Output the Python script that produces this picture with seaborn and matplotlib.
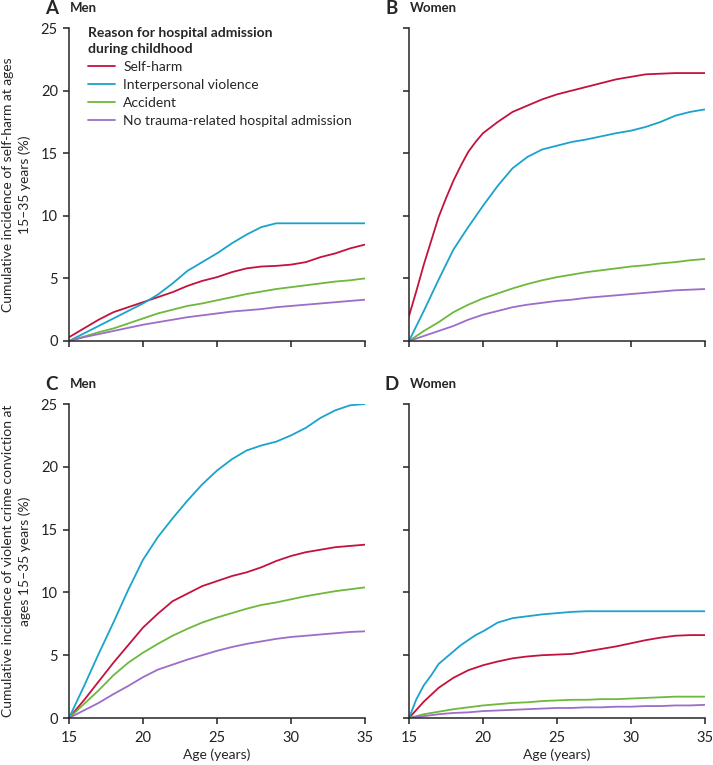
import matplotlib.pyplot as plt
import pandas as pd
import seaborn as sns
from matplotlib.lines import Line2D

reasons = ["Self-harm", "Interpersonal violence", "Accident",
           "No trauma-related hospital admission"]
colors = ["#C4123F", "#1AA3CC", "#6EB83C", "#9B6EC8"]

ages = list(range(15, 36))
ages_fine = [15, 15.5, 16, 16.5, 17, 17.5, 18, 18.5, 19, 19.5, 20] + list(range(21, 36))

# A: men, self-harm
a_selfharm = [0.3, 1.0, 1.7, 2.3, 2.7, 3.1, 3.5, 3.9, 4.4, 4.8, 5.1, 5.5, 5.8, 5.95, 6.0, 6.1, 6.3, 6.7, 7.0, 7.4, 7.7]
a_violence = [0, 0.6, 1.2, 1.8, 2.4, 3.0, 3.7, 4.6, 5.6, 6.3, 7.0, 7.8, 8.5, 9.1, 9.4, 9.4, 9.4, 9.4, 9.4, 9.4, 9.4]
a_accident = [0, 0.35, 0.7, 1.0, 1.4, 1.8, 2.2, 2.5, 2.8, 3.0, 3.25, 3.5, 3.75, 3.95, 4.15, 4.3, 4.45, 4.6, 4.75, 4.85, 5.0]
a_none = [0, 0.3, 0.55, 0.8, 1.05, 1.3, 1.5, 1.7, 1.9, 2.05, 2.2, 2.35, 2.45, 2.55, 2.7, 2.8, 2.9, 3.0, 3.1, 3.2, 3.3]

# B: women, self-harm
b_selfharm = [2.0, 4.0, 6.1, 8.0, 9.9, 11.4, 12.8, 14.0, 15.1, 15.9, 16.6, 17.5, 18.3, 18.8, 19.3, 19.7,
              20.0, 20.3, 20.6, 20.9, 21.1, 21.3, 21.35, 21.4, 21.4, 21.4]
b_violence = [0, 2.4, 4.9, 7.3, 9.1, 10.8, 12.4, 13.8, 14.7, 15.3, 15.6, 15.9, 16.1, 16.35, 16.6, 16.8, 17.1, 17.5, 18.0, 18.3, 18.5]
b_accident = [0, 0.8, 1.5, 2.3, 2.9, 3.4, 3.8, 4.2, 4.55, 4.85, 5.1, 5.3, 5.5, 5.65, 5.8, 5.95, 6.05, 6.2, 6.3, 6.45, 6.55]
b_none = [0, 0.4, 0.8, 1.2, 1.7, 2.1, 2.4, 2.7, 2.9, 3.05, 3.2, 3.3, 3.45, 3.55, 3.65, 3.75, 3.85, 3.95, 4.05, 4.1, 4.15]

# C: men, violent crime
c_selfharm = [0, 1.4, 2.9, 4.4, 5.8, 7.2, 8.3, 9.3, 9.9, 10.5, 10.9, 11.3, 11.6, 12.0, 12.5, 12.9, 13.2, 13.4, 13.6, 13.7, 13.8]
c_violence = [0, 2.5, 5.1, 7.6, 10.2, 12.6, 14.4, 15.9, 17.3, 18.6, 19.7, 20.6, 21.3, 21.7, 22.0, 22.5, 23.1, 23.9, 24.5, 24.9, 25.0]
c_accident = [0, 1.1, 2.2, 3.4, 4.4, 5.2, 5.9, 6.55, 7.1, 7.6, 8.0, 8.35, 8.7, 9.0, 9.2, 9.45, 9.7, 9.9, 10.1, 10.25, 10.4]
c_none = [0, 0.6, 1.2, 1.9, 2.55, 3.25, 3.85, 4.25, 4.65, 5.0, 5.35, 5.65, 5.9, 6.1, 6.3, 6.45, 6.55, 6.65, 6.75, 6.85, 6.9]

# D: women, violent crime
d_selfharm = [0, 1.3, 2.4, 3.2, 3.8, 4.2, 4.5, 4.75, 4.9, 5.0, 5.05, 5.1, 5.3, 5.5, 5.7, 5.95, 6.2, 6.4, 6.55, 6.6, 6.6]
d_violence = [0, 1.5, 2.6, 3.4, 4.3, 4.8, 5.3, 5.8, 6.2, 6.6, 6.9, 7.6, 7.95, 8.1, 8.25, 8.35, 8.45, 8.5, 8.5,
              8.5, 8.5, 8.5, 8.5, 8.5, 8.5, 8.5]
d_accident = [0, 0.3, 0.5, 0.7, 0.85, 1.0, 1.1, 1.2, 1.25, 1.35, 1.4, 1.45, 1.45, 1.5, 1.5, 1.55, 1.6, 1.65, 1.7, 1.7, 1.7]
d_none = [0, 0.15, 0.3, 0.4, 0.45, 0.55, 0.6, 0.65, 0.7, 0.75, 0.8, 0.8, 0.85, 0.85, 0.9, 0.9, 0.95, 0.95, 1.0, 1.0, 1.05]


def make_df(series):
    rows = []
    for reason, (x, y) in zip(reasons, series):
        for xi, yi in zip(x, y):
            rows.append({"age": xi, "pct": yi, "reason": reason})
    return pd.DataFrame(rows)


panels = {
    "A": make_df([(ages, a_selfharm), (ages, a_violence), (ages, a_accident), (ages, a_none)]),
    "B": make_df([(ages_fine, b_selfharm), (ages, b_violence), (ages, b_accident), (ages, b_none)]),
    "C": make_df([(ages, c_selfharm), (ages, c_violence), (ages, c_accident), (ages, c_none)]),
    "D": make_df([(ages, d_selfharm), (ages_fine, d_violence), (ages, d_accident), (ages, d_none)]),
}

sns.set_style("ticks")
plt.rcParams["font.family"] = ["Lato", "DejaVu Sans"]
plt.rcParams["axes.linewidth"] = 1.1

fig = plt.figure(figsize=(7.13, 7.65), dpi=100)
W, H = 713, 765
boxes = {
    "A": (69, 28, 341), "B": (409, 28, 341),
    "C": (69, 404, 718), "D": (409, 404, 718),
}
titles = {"A": "Men", "B": "Women", "C": "Men", "D": "Women"}

for key, (x0, ytop, ybot) in boxes.items():
    ax = fig.add_axes([x0 / W, 1 - ybot / H, 296 / W, (ybot - ytop) / H])
    sns.lineplot(data=panels[key], x="age", y="pct", hue="reason", hue_order=reasons,
                 palette=colors, ax=ax, linewidth=1.3, legend=False, sort=True)
    ax.set_xlim(15, 35)
    ax.set_ylim(0, 25)
    ax.set_xticks([15, 20, 25, 30, 35])
    ax.set_yticks([0, 5, 10, 15, 20, 25])
    sns.despine(ax=ax)
    ax.tick_params(direction="out", length=4.5, width=1.1, labelsize=10.5, colors="#222222")
    ax.tick_params(axis="x", pad=4.5)
    ax.set_xlabel("")
    ax.set_ylabel("")
    if key in ("B", "D"):
        ax.set_yticklabels([])
    if key in ("A", "B"):
        ax.set_xticklabels([])
    else:
        ax.set_xlabel("Age (years)", fontsize=10, labelpad=3)
    fig.text((x0 - 17) / W, 1 - (ytop - 20) / H, key, fontsize=13.5, fontweight="bold",
             ha="center", va="center")
    fig.text((x0 + 1) / W, 1 - (ytop - 20) / H, titles[key], fontsize=9.5,
             fontweight="bold", ha="left", va="center")
    if key == "A":
        ax.set_ylabel("Cumulative incidence of self-harm at ages\n15\u201335 years (%)",
                      fontsize=10, labelpad=7, linespacing=1.45)
        handles = [Line2D([], [], color=c, lw=1.3) for c in colors]
        leg = ax.legend(handles, reasons, title="Reason for hospital admission\nduring childhood",
                        loc="upper left", bbox_to_anchor=(0.047, 1.022), frameon=False,
                        fontsize=10, title_fontproperties={"weight": "bold", "size": 10},
                        handlelength=1.9, handletextpad=0.6, labelspacing=0.42,
                        alignment="left", borderaxespad=0)
        leg.get_title().set_linespacing(1.45)
    if key == "C":
        ax.set_ylabel("Cumulative incidence of violent crime conviction at\nages 15\u201335 years (%)",
                      fontsize=10, labelpad=7, linespacing=1.45)

fig.savefig("out.png", dpi=100)
